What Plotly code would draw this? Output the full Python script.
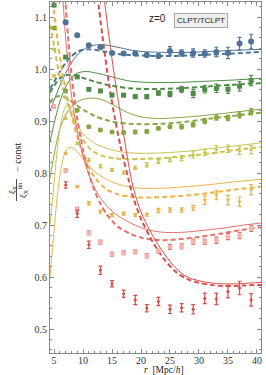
import plotly.graph_objects as go

# ---------------- data ----------------
r_pts = [5, 7, 9, 11, 13, 15, 17, 19, 21, 23, 25, 27, 29, 31, 33, 35, 37, 39]

blue_pts = [None, 1.090, 1.065, 1.046, 1.042, 1.031, 1.030, 1.030, 1.027, 1.025, 1.035, 1.031, 1.031, 1.030, 1.033, 1.031, 1.049, 1.053]
blue_err = [0, 0.002, 0.002, 0.002, 0.002, 0.003, 0.003, 0.003, 0.004, 0.004, 0.008, 0.006, 0.008, 0.007, 0.009, 0.011, 0.012, 0.014]
dkgreen_pts = [1.123, 1.023, 0.985, 0.961, 0.958, 0.950, 0.950, 0.947, 0.947, 0.954, 0.952, 0.961, 0.953, 0.961, 0.963, 0.961, 0.967, 0.978]
dkgreen_err = [0.002, 0.002, 0.002, 0.002, 0.002, 0.003, 0.003, 0.003, 0.004, 0.004, 0.005, 0.006, 0.008, 0.007, 0.008, 0.008, 0.009, 0.010]
olive_pts = [1.079, 0.958, 0.921, 0.889, 0.883, 0.879, 0.878, 0.879, 0.880, 0.886, 0.889, 0.889, 0.893, 0.900, 0.907, 0.906, 0.912, 0.918]
olive_err = [0.002, 0.002, 0.002, 0.002, 0.002, 0.002, 0.003, 0.003, 0.003, 0.003, 0.003, 0.004, 0.004, 0.005, 0.005, 0.005, 0.006, 0.006]
yg_pts = [1.038, 0.905, 0.857, 0.825, 0.813, 0.806, 0.801, 0.810, 0.816, 0.822, 0.826, 0.829, 0.835, 0.840, 0.846, 0.847, 0.843, 0.845]
yg_err = [0.002, 0.002, 0.002, 0.003, 0.003, 0.003, 0.003, 0.003, 0.004, 0.004, 0.004, 0.005, 0.006, 0.006, 0.007, 0.007, 0.007, 0.008]
orange_pts = [0.987, 0.838, 0.774, 0.742, 0.726, 0.719, 0.722, 0.719, 0.720, 0.728, 0.729, 0.729, 0.733, 0.748, 0.758, 0.748, 0.745, 0.768]
orange_err = [0.002, 0.002, 0.002, 0.003, 0.003, 0.003, 0.003, 0.003, 0.003, 0.004, 0.004, 0.004, 0.005, 0.008, 0.009, 0.009, 0.009, 0.010]
red1_pts = [0.928, 0.805, 0.730, 0.685, 0.667, 0.644, 0.647, 0.649, 0.641, 0.650, 0.658, 0.659, 0.668, 0.668, 0.671, 0.678, 0.680, 0.694]
red1_err = [0.003, 0.003, 0.004, 0.004, 0.004, 0.004, 0.004, 0.004, 0.004, 0.004, 0.005, 0.005, 0.005, 0.005, 0.006, 0.006, 0.006, 0.006]
red2_pts = [None, 0.777, 0.722, 0.662, 0.613, 0.587, 0.568, 0.556, 0.540, 0.553, 0.538, 0.541, 0.538, 0.559, 0.558, 0.572, 0.579, 0.556]
red2_err = [0, 0.006, 0.007, 0.007, 0.008, 0.006, 0.007, 0.009, 0.007, 0.008, 0.008, 0.008, 0.009, 0.010, 0.011, 0.012, 0.013, 0.012]

# model curves (CLPT solid, TCLPT dashed)
blue_clpt_r = [4.3, 5, 6, 7, 8, 9, 10, 11, 12, 13, 14, 16, 18, 20, 24, 28, 32, 36, 40.7]
blue_clpt_v = [0.92, 0.94, 0.968, 0.992, 1.012, 1.027, 1.037, 1.043, 1.046, 1.047, 1.046, 1.042, 1.037, 1.034, 1.032, 1.032, 1.034, 1.036, 1.038]
blue_tclpt_r = [4.3, 5, 6, 7, 8, 9, 10, 11, 12, 14, 16, 18, 20, 24, 28, 32, 36, 40.7]
blue_tclpt_v = [0.962, 0.975, 0.995, 1.012, 1.025, 1.033, 1.037, 1.038, 1.037, 1.033, 1.029, 1.027, 1.026, 1.025, 1.026, 1.028, 1.030, 1.033]

dkgreen_clpt_r = [4.3, 5, 6, 7, 8, 9, 10, 11, 12, 14, 16, 18, 20, 24, 28, 32, 36, 40.7]
dkgreen_clpt_v = [0.86, 0.895, 0.937, 0.966, 0.983, 0.992, 0.995, 0.995, 0.993, 0.988, 0.982, 0.977, 0.975, 0.974, 0.975, 0.977, 0.979, 0.982]
dkgreen_tclpt_r = [4.3, 5, 6, 7, 8, 9, 10, 12, 14, 16, 18, 20, 24, 28, 32, 36, 40.7]
dkgreen_tclpt_v = [0.955, 0.968, 0.982, 0.988, 0.989, 0.987, 0.983, 0.976, 0.970, 0.966, 0.963, 0.962, 0.962, 0.964, 0.967, 0.970, 0.973]

olive_clpt_r = [4.3, 5, 6, 7, 8, 9, 10, 11, 12, 13, 14, 16, 18, 20, 23, 27, 32, 36, 40.7]
olive_clpt_v = [0.79, 0.835, 0.885, 0.912, 0.928, 0.937, 0.942, 0.944, 0.944, 0.942, 0.938, 0.926, 0.915, 0.908, 0.905, 0.907, 0.912, 0.917, 0.923]
olive_tclpt_r = [4.3, 5, 6, 7, 8, 9, 10, 12, 14, 16, 18, 20, 24, 28, 32, 36, 40.7]
olive_tclpt_v = [0.935, 0.945, 0.948, 0.945, 0.938, 0.930, 0.922, 0.910, 0.902, 0.897, 0.895, 0.894, 0.895, 0.899, 0.905, 0.910, 0.916]

yg_clpt_r = [4.3, 5, 5.5, 6, 6.5, 7, 7.5, 8, 9, 10, 12, 14, 16, 18, 20, 24, 28, 32, 36, 40.7]
yg_clpt_v = [0.70, 0.78, 0.84, 0.885, 0.913, 0.928, 0.930, 0.922, 0.895, 0.875, 0.857, 0.848, 0.842, 0.839, 0.838, 0.839, 0.842, 0.847, 0.852, 0.858]
yg_tclpt_r = [4.3, 5, 6, 7, 8, 9, 10, 11, 12, 14, 17, 20, 24, 28, 32, 36, 40.7]
yg_tclpt_v = [1.085, 1.045, 0.985, 0.945, 0.912, 0.885, 0.864, 0.849, 0.840, 0.831, 0.827, 0.827, 0.829, 0.833, 0.838, 0.844, 0.850]

orange_clpt_r = [4.3, 5, 5.5, 6, 6.5, 7, 7.5, 8, 9, 10, 11, 12, 14, 16, 18, 20, 24, 28, 32, 36, 40.7]
orange_clpt_v = [0.60, 0.69, 0.75, 0.795, 0.825, 0.842, 0.849, 0.849, 0.841, 0.827, 0.814, 0.803, 0.788, 0.779, 0.773, 0.771, 0.771, 0.774, 0.778, 0.783, 0.788]
orange_tclpt_r = [4.8, 5.6, 6.5, 7.5, 8.5, 9.5, 10.5, 12, 14, 16, 18, 20, 24, 28, 32, 36, 40.7]
orange_tclpt_v = [1.13, 1.056, 0.99, 0.935, 0.89, 0.852, 0.822, 0.792, 0.769, 0.759, 0.755, 0.753, 0.754, 0.757, 0.762, 0.768, 0.774]

red1_clpt_r = [6.5, 7, 7.5, 8, 9, 10, 11, 12, 13, 14, 15, 16, 18, 20, 22, 24, 27, 30, 34, 37, 40.7]
red1_clpt_v = [1.14, 1.06, 1.0, 0.95, 0.88, 0.832, 0.797, 0.771, 0.752, 0.738, 0.727, 0.718, 0.705, 0.695, 0.689, 0.686, 0.686, 0.689, 0.694, 0.699, 0.704]
red1_tclpt_r = [6.9, 7.5, 8, 9, 10, 11, 12, 13, 14, 15, 16, 18, 20, 22, 24, 27, 30, 34, 37, 40.7]
red1_tclpt_v = [1.14, 1.05, 0.99, 0.905, 0.845, 0.80, 0.766, 0.741, 0.722, 0.708, 0.697, 0.684, 0.676, 0.672, 0.671, 0.673, 0.677, 0.684, 0.690, 0.696]

red2_clpt_r = [13.6, 14.5, 15.5, 16.5, 17.8, 18.6, 20, 22, 24, 26, 28, 30, 32, 34, 36, 38, 40.7]
red2_clpt_v = [1.14, 1.06, 0.98, 0.91, 0.82, 0.775, 0.725, 0.68, 0.645, 0.617, 0.600, 0.593, 0.589, 0.587, 0.587, 0.588, 0.590]
red2_tclpt_r = [12.5, 13.5, 14.5, 15.5, 16.5, 17.8, 18.6, 20, 22, 24, 26, 28, 30, 32, 34, 36, 38, 40.7]
red2_tclpt_v = [1.14, 1.05, 0.97, 0.905, 0.85, 0.79, 0.755, 0.712, 0.668, 0.634, 0.610, 0.596, 0.589, 0.585, 0.583, 0.583, 0.584, 0.585]

x_ticks = [5, 10, 15, 20, 25, 30, 35, 40]
y_ticks = [0.5, 0.6, 0.7, 0.8, 0.9, 1.0, 1.1]

# ---------------- styles ----------------
C_BLUE = "#4e7399"
C_DKG = "#4f8c48"
C_OLV = "#86a842"
C_YG = "#c8c452"
C_ORG = "#e8b34c"
C_RED1 = "#e2736a"
C_RED2 = "#d4504a"

fig = go.Figure()

curves = [
    (blue_clpt_r, blue_clpt_v, blue_tclpt_r, blue_tclpt_v, C_BLUE),
    (dkgreen_clpt_r, dkgreen_clpt_v, dkgreen_tclpt_r, dkgreen_tclpt_v, C_DKG),
    (olive_clpt_r, olive_clpt_v, olive_tclpt_r, olive_tclpt_v, C_OLV),
    (yg_clpt_r, yg_clpt_v, yg_tclpt_r, yg_tclpt_v, C_YG),
    (orange_clpt_r, orange_clpt_v, orange_tclpt_r, orange_tclpt_v, C_ORG),
    (red1_clpt_r, red1_clpt_v, red1_tclpt_r, red1_tclpt_v, C_RED1),
    (red2_clpt_r, red2_clpt_v, red2_tclpt_r, red2_tclpt_v, C_RED2),
]
for rs, vs, rd, vd, col in curves:
    fig.add_trace(go.Scatter(x=rs, y=vs, mode="lines",
                             line=dict(color=col, width=1, shape="spline", smoothing=0.8),
                             showlegend=False, hoverinfo="skip"))
    fig.add_trace(go.Scatter(x=rd, y=vd, mode="lines",
                             line=dict(color=col, width=2, dash="5px,3px", shape="spline", smoothing=0.8),
                             showlegend=False, hoverinfo="skip"))

points = [
    (blue_pts, blue_err, C_BLUE, "circle", 6, C_BLUE),
    (dkgreen_pts, dkgreen_err, C_DKG, "square", 5, C_DKG),
    (olive_pts, olive_err, C_OLV, "circle", 5, C_OLV),
    (yg_pts, yg_err, C_YG, "triangle-up", 4, C_YG),
    (orange_pts, orange_err, C_ORG, "triangle-down", 4, C_ORG),
    (red1_pts, red1_err, C_RED1, "circle", 5, "#f2b5ae"),
    (red2_pts, red2_err, C_RED2, "diamond", 3, C_RED2),
]
for vals, err, col, sym, size, fill in points:
    fig.add_trace(go.Scatter(
        x=r_pts, y=vals, mode="markers",
        marker=dict(symbol=sym, size=size, color=fill, line=dict(width=0)),
        error_y=dict(type="data", array=err, visible=True, color=col, thickness=1.2, width=2),
        showlegend=False, hoverinfo="skip"))

axis_common = dict(
    showgrid=False, zeroline=False, showline=True, linecolor="#8a8a8a", linewidth=1,
    mirror="ticks", ticks="inside", ticklen=4, tickcolor="#8a8a8a", tickwidth=1,
    tickfont=dict(family="Liberation Serif", size=10, color="#333333"),
)
fig.update_xaxes(range=[4.3, 40.7], tickvals=x_ticks, ticklabelstandoff=-2,
                 minor=dict(dtick=1, tick0=0, ticks="inside", ticklen=2, tickcolor="#8a8a8a"),
                 **axis_common)
fig.update_yaxes(range=[0.454, 1.129], tickvals=y_ticks, tickformat=".1f",
                 minor=dict(dtick=0.02, tick0=0, ticks="inside", ticklen=2, tickcolor="#8a8a8a"),
                 **axis_common)

L, R, T, B = 50, 5, 2, 22
W, H = 266, 375
pw, ph = W - L - R, H - T - B


def px(xp):
    return (xp - L) / pw


def py(yp):
    return 1 - (yp - T) / ph


def label(text, x, y, size, family="Liberation Serif", angle=0, **kw):
    d = dict(text=text, xref="paper", yref="paper", x=px(x), y=py(y),
             xanchor="center", yanchor="middle", showarrow=False, textangle=angle,
             font=dict(family=family, size=size, color="#222"))
    d.update(kw)
    return d


ann = [
    label("<i>r</i>  [Mpc/<i>h</i>]", 164, 369.5, 9.5),
    label("z=0", 157, 19, 10, family="Liberation Sans"),
    label("CLPT/TCLPT", 201, 20, 8, family="Liberation Sans",
          bgcolor="#eeeeee", bordercolor="#aaaaaa", borderwidth=1, borderpad=2),
    # y-axis label as a rotated fraction
    label("<i>ξ</i><sub>X</sub>", 12, 190, 9, angle=-90),
    label("<i>ξ</i><sub>X</sub><sup>lin</sup>", 22, 190, 9, angle=-90),
    label("− const", 17, 158, 10, angle=-90),
]

fig.update_layout(
    width=W, height=H, margin=dict(l=L, r=R, t=T, b=B),
    plot_bgcolor="white", paper_bgcolor="white",
    annotations=ann,
    shapes=[dict(type="line", xref="paper", yref="paper", x0=px(16.5), x1=px(16.5), y0=py(179), y1=py(201),
                 line=dict(color="#222", width=0.8))],
)

fig.write_html("out.html", config={"displayModeBar": False},
               post_script="document.body.style.margin='0';document.body.style.padding='0';")
